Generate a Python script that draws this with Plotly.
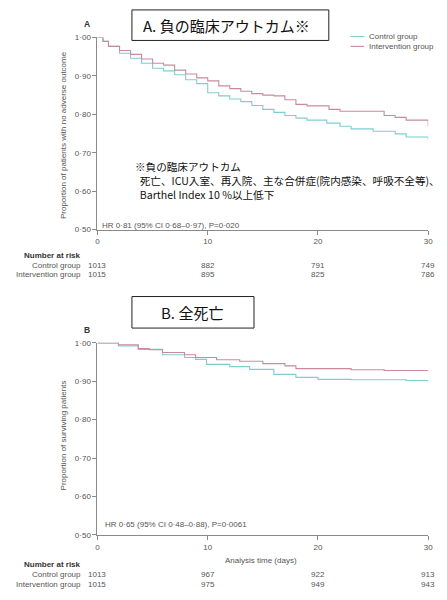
import plotly.graph_objects as go

# ---- Kaplan-Meier step data (days, survival proportion) ----
a_ctrl_t = [0, 0.5, 1, 2, 3, 4, 5, 6, 7, 8, 9, 10, 11, 12, 13, 14, 15, 16, 17, 18, 19, 20.8, 22, 23, 25, 27, 28, 30]
a_ctrl_s = [1.0, 0.99, 0.977, 0.959, 0.946, 0.933, 0.92, 0.913, 0.903, 0.89, 0.88, 0.856, 0.848, 0.84, 0.833,
            0.823, 0.813, 0.805, 0.797, 0.79, 0.785, 0.777, 0.769, 0.762, 0.756, 0.749, 0.741, 0.733]
a_int_t = [0, 0.5, 1, 2, 3, 4, 5, 6, 7, 8, 9, 10, 11, 12, 13, 14, 15, 16, 17, 18, 19, 21, 22, 26, 27, 28, 30]
a_int_s = [1.0, 0.99, 0.977, 0.966, 0.956, 0.944, 0.933, 0.928, 0.915, 0.905, 0.895, 0.887, 0.874, 0.867, 0.86,
           0.854, 0.85, 0.848, 0.838, 0.826, 0.822, 0.813, 0.808, 0.797, 0.792, 0.785, 0.769]

b_ctrl_t = [0, 1.9, 3.7, 5.9, 7.9, 8.9, 9.9, 12, 13.8, 16, 18, 20, 23, 28, 30]
b_ctrl_s = [1.0, 0.992, 0.983, 0.969, 0.962, 0.957, 0.944, 0.938, 0.931, 0.918, 0.91, 0.905, 0.904, 0.902, 0.898]
b_int_t = [0, 1.9, 3.7, 4.7, 5.9, 7.9, 8.9, 10.8, 12.9, 15, 17, 18, 23, 26, 30]
b_int_s = [1.0, 0.995, 0.985, 0.982, 0.975, 0.969, 0.962, 0.956, 0.952, 0.946, 0.94, 0.933, 0.93, 0.928, 0.928]

# ---- number at risk ----
risk_days = [0, 10, 20, 30]
a_risk_ctrl = [1013, 882, 791, 749]
a_risk_int = [1015, 895, 825, 786]
b_risk_ctrl = [1013, 967, 922, 913]
b_risk_int = [1015, 975, 949, 943]

# ---- axis ticks ----
y_tickvals = [0.5, 0.6, 0.7, 0.8, 0.9, 1.0]
y_ticktext = ["0·50", "0·60", "0·70", "0·80", "0·90", "1·00"]
x_tickvals = [0, 10, 20, 30]
x_ticktext = ["0", "10", "20", "30"]

CTRL = "#7fcdd2"
INT = "#c98a9c"
AX = "#8a8a8a"
TXT = "#555555"
FONT = "Liberation Sans"
JP = "Noto Sans CJK JP"
SMALL = 8

W, H = 447, 600


def px(x):
    return x / W


def py(y):
    return 1 - y / H


fig = go.Figure()
for t, s, c, ax in [(a_ctrl_t, a_ctrl_s, CTRL, "1"), (a_int_t, a_int_s, INT, "1"),
                    (b_ctrl_t, b_ctrl_s, CTRL, "2"), (b_int_t, b_int_s, INT, "2")]:
    fig.add_trace(go.Scatter(
        x=t, y=s, mode="lines", line=dict(color=c, width=1.1, shape="hv"),
        xaxis="x" if ax == "1" else "x2", yaxis="y" if ax == "1" else "y2",
        showlegend=False, hoverinfo="skip"))

axis_common = dict(showline=True, linecolor=AX, linewidth=1, ticks="outside", ticklen=4,
                   tickcolor=AX, tickwidth=1, showgrid=False, zeroline=False,
                   tickfont=dict(family=FONT, size=SMALL, color=TXT))
xa = dict(axis_common, range=[0, 30], tickvals=x_tickvals, ticktext=x_ticktext,
          domain=[px(97), px(433)])
ya = dict(axis_common, range=[0.5, 1.0], tickvals=y_tickvals, ticktext=y_ticktext)

fig.update_layout(
    width=W, height=H, margin=dict(l=0, r=0, t=0, b=0),
    paper_bgcolor="white", plot_bgcolor="white", showlegend=False,
    xaxis=dict(xa, anchor="y"),
    yaxis=dict(ya, anchor="x", domain=[py(229), py(34)]),
    xaxis2=dict(xa, anchor="y2"),
    yaxis2=dict(ya, anchor="x2", domain=[py(539), py(344)]),
)

ann = []
shapes = []


def text(x, y, s, size=SMALL, color=TXT, xanchor="center", family=FONT, xref="paper", **kw):
    ann.append(dict(x=x if xref != "paper" else px(x), y=py(y), xref=xref, yref="paper",
                    text=s, showarrow=False, xanchor=xanchor, yanchor="middle",
                    font=dict(family=family, size=size, color=color), **kw))


# title boxes
shapes.append(dict(type="rect", xref="paper", yref="paper", x0=px(132), x1=px(332), y0=py(37), y1=py(6),
                   line=dict(color="#222", width=1), fillcolor="white"))
text(141, 22, "A. 負の臨床アウトカム※", size=15, color="#111", xanchor="left", family=JP)
shapes.append(dict(type="rect", xref="paper", yref="paper", x0=px(132), x1=px(256), y0=py(329), y1=py(297),
                   line=dict(color="#222", width=1), fillcolor="white"))
text(160, 313, "B. 全死亡", size=15, color="#111", xanchor="left", family=JP)

# panel letters
text(86, 20, "<b>A</b>", size=8.5, color="#333")
text(86, 331, "<b>B</b>", size=8.5, color="#333")

# legend
for yy, lab, col in [(33, "Control group", CTRL), (43, "Intervention group", INT)]:
    shapes.append(dict(type="line", xref="paper", yref="paper", x0=px(354), x1=px(368), y0=py(yy), y1=py(yy),
                       line=dict(color=col, width=1.1)))
    text(371, yy, lab, xanchor="left")

# y-axis titles
for yc, lab in [(133, "Proportion of patients with no adverse outcome"), (438, "Proportion of surviving patients")]:
    ann.append(dict(x=px(62), y=py(yc), xref="paper", yref="paper", text=lab, textangle=-90,
                    xanchor="center", yanchor="middle", showarrow=False,
                    font=dict(family=FONT, size=SMALL, color=TXT)))

# note on the composite outcome (one block, first line set further left)
ann.append(dict(x=px(133), y=py(179), xref="paper", yref="paper", showarrow=False,
                xanchor="left", yanchor="middle", align="left",
                text="※負の臨床アウトカム<br>"
                     "\u00a0\u00a0死亡、ICU入室、再入院、主な合併症(院内感染、呼吸不全等)、<br>"
                     "\u00a0\u00a0Barthel Index 10 %以上低下",
                font=dict(family=JP, size=10.6, color="#111")))

# hazard ratios
text(100, 225, "HR 0·81 (95% CI 0·68–0·97), P=0·020", xanchor="left")
text(103, 528, "HR 0·65 (95% CI 0·48–0·88), P=0·0061", xanchor="left")

# x-axis title (panel B)
text(263, 565, "Analysis time (days)")

# number at risk tables
for base, rc, ri, xr in [(255, a_risk_ctrl, a_risk_int, "x"), (569, b_risk_ctrl, b_risk_int, "x2")]:
    text(82, base, "<b>Number at risk</b>", color="#333", xanchor="right")
    text(82, base + 10, "Control group", xanchor="right")
    text(82, base + 20, "Intervention group", xanchor="right")
    for d, vc, vi in zip(risk_days, rc, ri):
        text(d, base + 10, str(vc), xref=xr)
        text(d, base + 20, str(vi), xref=xr)

fig.update_layout(annotations=ann, shapes=shapes)
fig.write_html("out.html")
